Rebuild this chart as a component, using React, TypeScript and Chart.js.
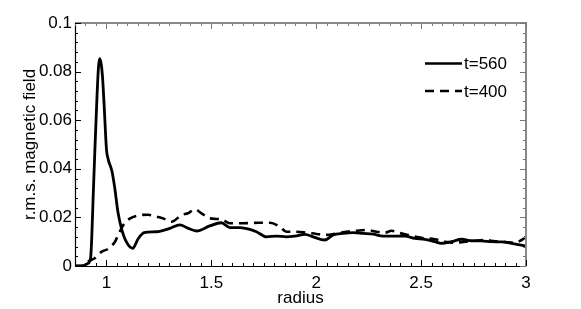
import React, { useEffect, useRef } from "react";
import { Chart, registerables } from "chart.js";

Chart.register(...registerables);

// t=560 (solid)
const radiusT560 = [0.85, 0.89, 0.912, 0.924, 0.93, 0.936, 0.944, 0.955, 0.962, 0.968, 0.975, 0.981, 0.989, 1.0, 1.008, 1.027, 1.04, 1.055, 1.072, 1.095, 1.125, 1.151, 1.18, 1.238, 1.302, 1.35, 1.39, 1.429, 1.493, 1.548, 1.588, 1.636, 1.683, 1.715, 1.763, 1.811, 1.858, 1.898, 1.946, 1.985, 2.041, 2.081, 2.128, 2.176, 2.224, 2.271, 2.319, 2.375, 2.422, 2.47, 2.518, 2.565, 2.597, 2.645, 2.693, 2.74, 2.788, 2.836, 2.884, 2.931, 3.0];
const fieldT560 = [0, 0.0002, 0.0011, 0.003, 0.012, 0.027, 0.046, 0.07, 0.082, 0.0853, 0.083, 0.078, 0.066, 0.048, 0.044, 0.0387, 0.0318, 0.022, 0.0153, 0.0099, 0.0073, 0.0112, 0.0137, 0.0141, 0.0155, 0.0169, 0.0155, 0.0144, 0.0165, 0.0178, 0.0158, 0.0158, 0.0151, 0.0141, 0.012, 0.0123, 0.012, 0.0123, 0.013, 0.012, 0.0107, 0.0128, 0.0134, 0.0137, 0.0134, 0.0131, 0.0123, 0.0123, 0.0123, 0.0114, 0.011, 0.01, 0.0093, 0.01, 0.011, 0.0104, 0.0103, 0.01, 0.0099, 0.0093, 0.0082];

// t=400 (dashed)
const radiusT400 = [0.85, 0.895, 0.912, 0.944, 0.976, 1.008, 1.04, 1.055, 1.079, 1.111, 1.159, 1.198, 1.238, 1.27, 1.31, 1.358, 1.389, 1.421, 1.453, 1.493, 1.548, 1.588, 1.651, 1.723, 1.779, 1.826, 1.858, 1.906, 1.954, 2.001, 2.049, 2.097, 2.145, 2.192, 2.24, 2.288, 2.327, 2.359, 2.391, 2.438, 2.502, 2.565, 2.613, 2.661, 2.709, 2.756, 2.804, 2.852, 2.9, 2.947, 2.979, 3.0];
const fieldT400 = [0, 0, 0.0018, 0.0032, 0.0058, 0.0071, 0.0099, 0.0126, 0.0167, 0.0195, 0.0209, 0.0211, 0.0203, 0.0196, 0.0182, 0.021, 0.0217, 0.0233, 0.0217, 0.0196, 0.0192, 0.0176, 0.0176, 0.0178, 0.0178, 0.0162, 0.0141, 0.0141, 0.0137, 0.0132, 0.0128, 0.0134, 0.0141, 0.0145, 0.0148, 0.0141, 0.0137, 0.0145, 0.0137, 0.0128, 0.0116, 0.011, 0.01, 0.0096, 0.01, 0.0104, 0.0107, 0.0102, 0.0099, 0.0096, 0.0107, 0.012];

const seriesLabels = ["t=560", "t=400"];
const xTickValues = [1, 1.5, 2, 2.5, 3];
const xTickLabels = ["1", "1.5", "2", "2.5", "3"];
const yTickValues = [0, 0.02, 0.04, 0.06, 0.08, 0.1];
const yTickLabels = ["0", "0.02", "0.04", "0.06", "0.08", "0.1"];

const FONT = "'Liberation Sans', Arial, Helvetica, sans-serif";

const framePlugin = {
  id: "frameTicks",
  afterDraw(chart: any) {
    const { ctx, chartArea } = chart;
    const { left, right, top, bottom } = chartArea;
    const xs = chart.scales.x;
    const ys = chart.scales.y;
    ctx.save();
    ctx.strokeStyle = "#000";
    ctx.lineWidth = 1.2;
    ctx.beginPath();
    ctx.moveTo(left + 0.5, top);
    ctx.lineTo(left + 0.5, bottom + 0.5);
    ctx.lineTo(right, bottom + 0.5);
    ctx.stroke();
    ctx.strokeStyle = "#8a8a8a";
    ctx.lineWidth = 2;
    ctx.beginPath();
    ctx.moveTo(left, top);
    ctx.lineTo(right, top);
    ctx.lineTo(right, bottom + 0.5);
    ctx.stroke();
    ctx.lineWidth = 1;
    for (let i = 0; i <= 43; i++) {
      const v = 0.85 + i * 0.05;
      if (v > 3.0001) break;
      const px = Math.round(xs.getPixelForValue(v)) + 0.5;
      const major = Math.abs(v * 2 - Math.round(v * 2)) < 1e-6;
      const len = major ? 6 : 3;
      ctx.strokeStyle = "#000";
      ctx.beginPath();
      ctx.moveTo(px, bottom);
      ctx.lineTo(px, bottom - len);
      ctx.stroke();
      ctx.strokeStyle = "#777";
      ctx.beginPath();
      ctx.moveTo(px, top);
      ctx.lineTo(px, top + len);
      ctx.stroke();
    }
    for (let i = 0; i <= 25; i++) {
      const v = i * 0.004;
      const py = Math.round(ys.getPixelForValue(v)) + 0.5;
      const major = i % 5 === 0;
      const len = major ? 6 : 3;
      ctx.strokeStyle = "#000";
      ctx.beginPath();
      ctx.moveTo(left, py);
      ctx.lineTo(left + len, py);
      ctx.stroke();
      ctx.strokeStyle = "#777";
      ctx.beginPath();
      ctx.moveTo(right, py);
      ctx.lineTo(right - len, py);
      ctx.stroke();
    }
    const lx0 = 425;
    const lx1 = 462;
    const rows = [63.5, 91];
    chart.data.datasets.forEach((ds: any, i: number) => {
      const y = rows[i];
      ctx.strokeStyle = "#000";
      ctx.lineWidth = 2.6;
      ctx.setLineDash(ds.borderDash || []);
      ctx.beginPath();
      ctx.moveTo(lx0, y);
      ctx.lineTo(lx1, y);
      ctx.stroke();
      ctx.setLineDash([]);
      ctx.fillStyle = "#000";
      ctx.font = `17px ${FONT}`;
      ctx.textAlign = "left";
      ctx.textBaseline = "middle";
      ctx.fillText(ds.label, 464, y + 1);
    });
    ctx.restore();
  },
};

export default function App() {
  const ref = useRef<HTMLCanvasElement>(null);
  useEffect(() => {
    document.body.style.margin = "0";
    const canvas = ref.current;
    if (!canvas) return;
    const chart = new Chart(canvas, {
      type: "line",
      data: {
        datasets: [
          {
            label: seriesLabels[0],
            data: radiusT560.map((x, i) => ({ x, y: fieldT560[i] })),
            borderColor: "#000",
            borderWidth: 2.8,
            pointRadius: 0,
            cubicInterpolationMode: "monotone",
            fill: false,
          },
          {
            label: seriesLabels[1],
            data: radiusT400.map((x, i) => ({ x, y: fieldT400[i] })),
            borderColor: "#000",
            borderWidth: 2.6,
            borderDash: [9, 6],
            pointRadius: 0,
            cubicInterpolationMode: "monotone",
            fill: false,
          },
        ],
      },
      options: {
        animation: false,
        responsive: false,
        maintainAspectRatio: false,
        layout: { padding: { top: 23, right: 55, left: 0, bottom: 0 } },
        plugins: { legend: { display: false }, tooltip: { enabled: false } },
        scales: {
          x: {
            type: "linear",
            min: 0.85,
            max: 3,
            grid: { display: false, drawTicks: false },
            border: { display: false },
            afterBuildTicks: (s: any) => {
              s.ticks = xTickValues.map((v) => ({ value: v }));
            },
            afterFit: (s: any) => {
              s.height = 43;
            },
            ticks: {
              color: "#000",
              font: { family: FONT, size: 17 },
              padding: 7,
              maxRotation: 0,
              autoSkip: false,
              callback: (v: any) => {
                const i = xTickValues.findIndex((t) => Math.abs(t - v) < 1e-9);
                return i >= 0 ? xTickLabels[i] : "";
              },
            },
            title: {
              display: true,
              text: "radius",
              color: "#000",
              font: { family: FONT, size: 17 },
              padding: { top: 0, bottom: 0 },
            },
          },
          y: {
            type: "linear",
            min: 0,
            max: 0.1,
            grid: { display: false, drawTicks: false },
            border: { display: false },
            afterBuildTicks: (s: any) => {
              s.ticks = yTickValues.map((v) => ({ value: v }));
            },
            afterFit: (s: any) => {
              s.width = 75;
            },
            ticks: {
              color: "#000",
              font: { family: FONT, size: 17 },
              padding: 3,
              autoSkip: false,
              callback: (v: any) => {
                const i = yTickValues.findIndex((t) => Math.abs(t - v) < 1e-9);
                return i >= 0 ? yTickLabels[i] : "";
              },
            },
            title: {
              display: true,
              text: "r.m.s. magnetic field",
              color: "#000",
              font: { family: FONT, size: 17 },
              padding: { top: 20, bottom: 0 },
            },
          },
        },
      },
      plugins: [framePlugin],
    } as any);
    return () => chart.destroy();
  }, []);
  return (
    <div style={{ width: 581, height: 309 }}>
      <canvas ref={ref} width={581} height={309} />
    </div>
  );
}
